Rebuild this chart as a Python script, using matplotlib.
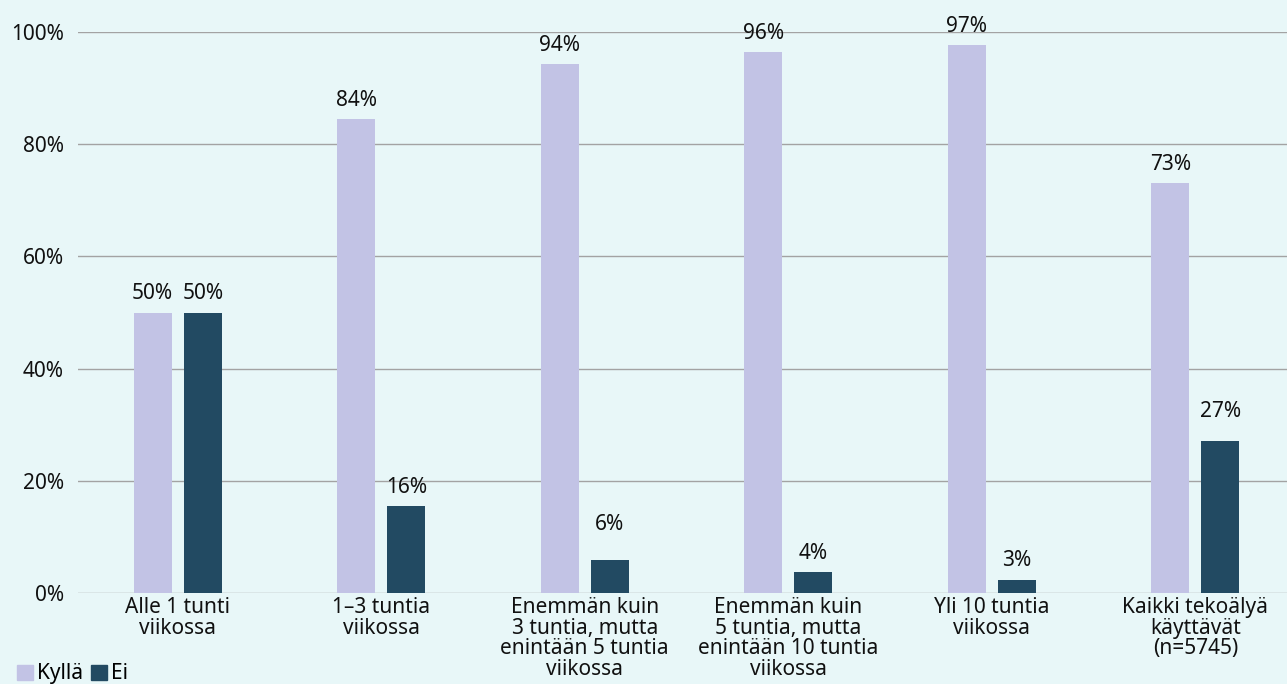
import numpy as np
import matplotlib
matplotlib.use("Agg")
import matplotlib.pyplot as plt
from matplotlib.patches import Patch

plt.rcParams['font.family'] = ['Noto Sans', 'DejaVu Sans']

# data
categories = [
    "Alle 1 tunti\nviikossa",
    "1–3 tuntia\nviikossa",
    "Enemmän kuin\n3 tuntia, mutta\nenintään 5 tuntia\nviikossa",
    "Enemmän kuin\n5 tuntia, mutta\nenintään 10 tuntia\nviikossa",
    "Yli 10 tuntia\nviikossa",
    "Kaikki tekoälyä\nkäyttävät\n(n=5745)",
]
kylla = [50.0, 84.5, 94.3, 96.4, 97.7, 73.1]
ei = [50.0, 15.5, 5.8, 3.7, 2.4, 27.1]
kylla_labels = ["50%", "84%", "94%", "96%", "97%", "73%"]
ei_labels = ["50%", "16%", "6%", "4%", "3%", "27%"]
yticks = [0, 20, 40, 60, 80, 100]

bg = "#e8f7f8"
c_kylla = "#c2c3e5"
c_ei = "#224a62"
fs = 15

fig = plt.figure(figsize=(12.87, 6.84), dpi=100, facecolor=bg)
ax = fig.add_axes([78 / 1287, 91 / 684, 1 - 78 / 1287, 561 / 684], facecolor=bg)

x = np.arange(len(categories))
w = 0.187
off = 0.123
b1 = ax.bar(x - off, kylla, w, color=c_kylla, zorder=3)
b2 = ax.bar(x + off, ei, w, color=c_ei, zorder=3)

# label offsets (points) - the original nudges a couple of labels higher
k_pad = [6, 6, 6, 6, 6, 6]
e_pad = [6, 6, 18, 6, 6, 14]
for bars, labels, pads in ((b1, kylla_labels, k_pad), (b2, ei_labels, e_pad)):
    for rect, lab, p in zip(bars, labels, pads):
        ax.annotate(lab, (rect.get_x() + rect.get_width() / 2, rect.get_height()),
                    xytext=(0, p), textcoords="offset points",
                    ha="center", va="bottom", fontsize=fs, color="#111111",
                    annotation_clip=False)

ax.set_ylim(0, 100)
ax.set_xlim(-0.49, 5.45)
ax.set_yticks(yticks)
ax.set_yticklabels([f"{v}%" for v in yticks], fontsize=fs, color="#111111")
ax.set_xticks(x)
ax.set_xticklabels(categories, fontsize=fs, color="#111111", linespacing=0.97)
ax.tick_params(length=0, pad=10)
ax.tick_params(axis='x', pad=3)
ax.grid(axis='y', color="#a3a3a3", linewidth=1, zorder=0)
ax.set_axisbelow(True)
for s in ax.spines.values():
    s.set_visible(False)

handles = [Patch(color=c_kylla, label="Kyllä"), Patch(color=c_ei, label="Ei")]
fig.legend(handles=handles, loc="lower left", bbox_to_anchor=(0.002, -0.022), ncol=2,
           frameon=False, fontsize=fs, handlelength=0.75, handleheight=0.75,
           handletextpad=0.2, columnspacing=0.4, borderpad=0.2)

fig.savefig("out.png", dpi=100, facecolor=bg)
